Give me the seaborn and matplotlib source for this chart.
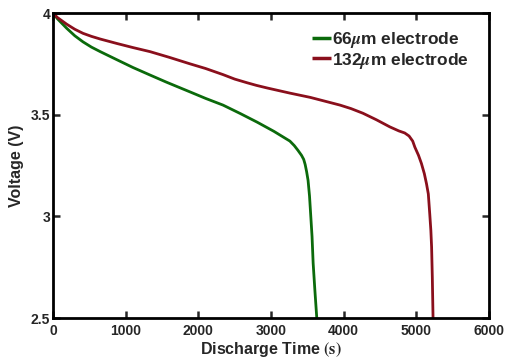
import matplotlib
matplotlib.use("Agg")
import matplotlib.pyplot as plt
import seaborn as sns
import pandas as pd

# Data
t_66 = [0, 60, 188, 300, 413, 530, 650, 880, 1100, 1335, 1560, 1790, 1885, 2100, 2340, 2580, 2810, 3040,
        3260, 3320, 3370, 3420, 3450, 3470, 3490, 3510, 3530, 3545, 3565, 3580, 3605, 3630]
v_66 = [4.0, 3.972, 3.925, 3.888, 3.858, 3.832, 3.81, 3.77, 3.732, 3.695, 3.66, 3.626, 3.612, 3.58, 3.547, 3.505, 3.463, 3.418,
        3.37, 3.348, 3.325, 3.30, 3.28, 3.255, 3.22, 3.177, 3.10, 3.015, 2.90, 2.77, 2.63, 2.50]

t_132 = [0, 60, 188, 300, 413, 530, 650, 880, 1100, 1335, 1600, 1885, 2100, 2340, 2500, 2670, 2800, 2950, 3260, 3540,
         3810, 3950, 4100, 4265, 4450, 4635, 4760, 4840, 4900, 4950, 4980, 5030, 5070, 5110,
         5140, 5165, 5185, 5200, 5210, 5220, 5230]
v_132 = [4.0, 3.978, 3.945, 3.92, 3.90, 3.885, 3.872, 3.85, 3.83, 3.81, 3.782, 3.75, 3.727, 3.697, 3.675, 3.657, 3.644, 3.631, 3.606, 3.585,
         3.56, 3.547, 3.53, 3.507, 3.475, 3.44, 3.42, 3.41, 3.395, 3.37, 3.34, 3.30, 3.26, 3.21,
         3.16, 3.11, 3.01, 2.93, 2.85, 2.70, 2.50]

labels = [r"66$\mu$m electrode", r"132$\mu$m electrode"]
colors = ["#0b6a0b", "#8a0f1c"]
x_ticks = [0, 1000, 2000, 3000, 4000, 5000, 6000]
y_ticks = [2.5, 3, 3.5, 4]
y_ticklabels = ["2.5", "3", "3.5", "4"]

df = pd.concat([
    pd.DataFrame({"t": t_66, "v": v_66, "s": labels[0]}),
    pd.DataFrame({"t": t_132, "v": v_132, "s": labels[1]}),
])

sns.set_style("ticks")
plt.rcParams["font.family"] = ["Liberation Sans", "DejaVu Sans"]
plt.rcParams["font.weight"] = "bold"
plt.rcParams["mathtext.fontset"] = "stix"

fig = plt.figure(figsize=(5.14, 3.58), dpi=100)
ax = fig.add_axes([53/514, 40/358, 436/514, 305/358])

sns.lineplot(data=df, x="t", y="v", hue="s", palette=colors, ax=ax,
             linewidth=2, sort=False, estimator=None)
for ln in ax.lines:
    ln.set_solid_joinstyle("round")
    ln.set_solid_capstyle("butt")

ax.set_xlim(0, 6000)
ax.set_ylim(2.5, 4)
ax.set_xticks(x_ticks)
ax.set_yticks(y_ticks)
ax.set_yticklabels(y_ticklabels)
ax.tick_params(direction="in", top=True, right=True, length=5, width=1.8,
               labelsize=10)
ax.tick_params(axis="x", pad=4)
ax.tick_params(axis="y", pad=2)
for lab in ax.get_xticklabels() + ax.get_yticklabels():
    lab.set_fontweight("bold")
for sp in ax.spines.values():
    sp.set_linewidth(2)
    sp.set_color("black")

ax.set_xlabel(r"Discharge Time $(\mathrm{s})$", fontsize=11.5, fontweight="bold", labelpad=2)
ax.set_ylabel("Voltage (V)", fontsize=11.5, fontweight="bold", labelpad=5)

leg = ax.legend(loc="upper left", bbox_to_anchor=(0.587, 0.955), frameon=False,
                fontsize=12.5, handlelength=1.05, handletextpad=0.1,
                labelspacing=0.02, borderaxespad=0.0, borderpad=0.2)
for txt in leg.get_texts():
    txt.set_fontweight("bold")
for h in leg.get_lines():
    h.set_linewidth(2.5)

fig.savefig("out.png", dpi=100)
